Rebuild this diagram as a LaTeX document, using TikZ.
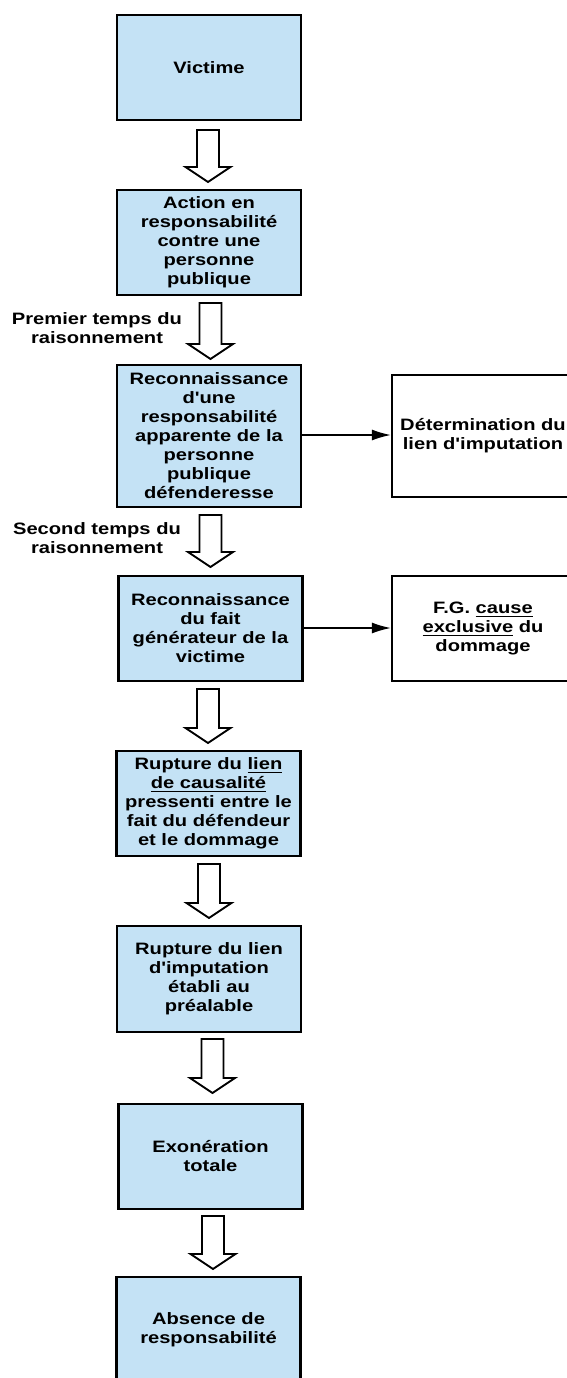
\documentclass[tikz,border=0pt]{standalone}
\usepackage{fontspec}
\setmainfont{Liberation Sans}[FakeStretch=1.22, Ligatures=TeXOff]
\newcommand\myul[1]{\setbox0\hbox{#1}\rlap{\smash{\raisebox{-3.4pt}{\rule{\wd0}{1.1pt}}}}\box0\relax}
\usetikzlibrary{arrows.meta}
\definecolor{boxblue}{HTML}{C4E2F5}
\newcommand\blkarrow[3]{%
  \draw[blk] ({#1-11},#2) -- ({#1+11},#2) -- ({#1+11},{#3-15}) -- ({#1+22.5},{#3-15})
    -- (#1,#3) -- ({#1-22.5},{#3-15}) -- ({#1-11},{#3-15}) -- cycle;}
\begin{document}
\begin{tikzpicture}[x=1pt,y=-1pt,
  txt/.style={font=\fontsize{16.5}{19}\selectfont\bfseries},
  box/.style={txt, draw=black, line width=2.3pt, fill=boxblue, minimum width=184pt,
              align=center, inner sep=2pt},
  wbox/.style={box, fill=white, minimum width=182pt},
  lab/.style={txt, align=center, inner sep=0pt},
  blk/.style={draw=black, line width=1.9pt, fill=white, line join=miter},
  conn/.style={line width=1.5pt, -{Latex[length=19pt,width=11pt]}}]
\useasboundingbox (0,0) rectangle (567,1378);
\clip (0,0) rectangle (567,1378);
\fill[white] (0,0) rectangle (567,1378);

\node[box, minimum height=105pt] (b1) at (209,67.5) {Victime};
\node[box, minimum height=105pt] (b2) at (209,242.5) {Action en\\responsabilité\\contre une\\personne\\publique};
\node[box, minimum height=142pt] (b3) at (209,436) {Reconnaissance\\d'une\\responsabilité\\apparente de la\\personne\\publique\\défenderesse};
\node[box, minimum height=105pt] (b4) at (210.5,628.5) {Reconnaissance\\du fait\\générateur de la\\victime};
\node[box, minimum height=105pt] (b5) at (208.5,803.5) {Rupture du \myul{lien}\\\myul{de causalité}\\pressenti entre le\\fait du défendeur\\et le dommage};
\node[box, minimum height=106pt] (b6) at (209,979) {Rupture du lien\\d'imputation\\établi au\\préalable};
\node[box, minimum height=105pt] (b7) at (210.5,1156.5) {Exonération\\totale};
\node[box, minimum height=105pt] (b8) at (208.5,1329.5) {Absence de\\responsabilité};

\node[wbox, minimum height=122pt] (r1) at (483,436) {Détermination du\\lien d'imputation};
\node[wbox, minimum height=105pt] (r2) at (483,628.5) {F.G. \myul{cause}\\\myul{exclusive} du\\dommage};

\node[lab] (l1) at (97,328.5) {Premier temps du\\raisonnement};
\node[lab] (l2) at (97,538.5) {Second temps du\\raisonnement};

\draw[conn] (b3.east |- 0,435) -- (r1.west |- 0,435);
\draw[conn] (b4.east |- 0,628) -- (r2.west |- 0,628);

\blkarrow{208}{130}{182}
\blkarrow{210.5}{303}{359}
\blkarrow{210.5}{515}{567}
\blkarrow{208}{689}{743}
\blkarrow{209}{864}{918}
\blkarrow{212.5}{1039}{1093}
\blkarrow{213}{1216}{1269}
\end{tikzpicture}
\end{document}
